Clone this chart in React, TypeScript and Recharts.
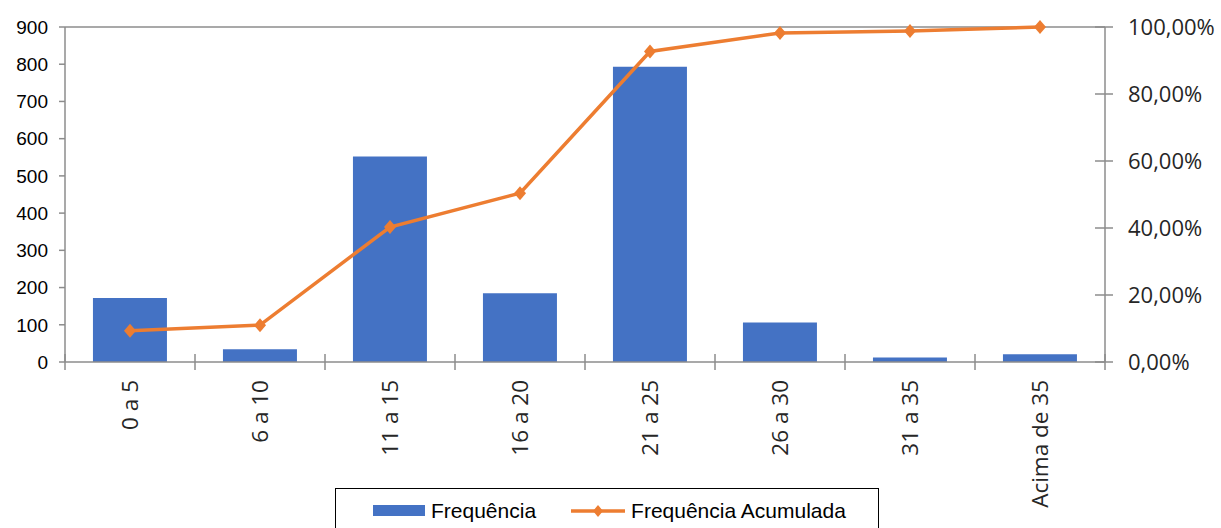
import { ComposedChart, Bar, Line, XAxis, YAxis, Legend, ReferenceLine } from "recharts";

const categories = ["0 a 5", "6 a 10", "11 a 15", "16 a 20", "21 a 25", "26 a 30", "31 a 35", "Acima de 35"];
const frequencia = [172, 34, 552, 185, 793, 106, 12, 21];
const acumulada = [0.093, 0.11, 0.403, 0.504, 0.927, 0.982, 0.988, 1.0];
const leftTicks = [0, 100, 200, 300, 400, 500, 600, 700, 800, 900];
const rightTicks = [0, 0.2, 0.4, 0.6, 0.8, 1.0];

const data = categories.map((c, i) => ({ cat: c, freq: frequencia[i], acum: acumulada[i] }));

const BLUE = "#4472C4";
const ORANGE = "#ED7D31";
const AXIS = "#8c8c8c";
const BAND = 130;

const fmtPct = (v: number) => (v * 100).toFixed(2).replace(".", ",") + "%";

function CatTick(props: any) {
  const { x, y, payload, index } = props;
  return (
    <g>
      {index === 0 && <line x1={x - BAND / 2} x2={x - BAND / 2} y1={y - 8} y2={y + 8} stroke={AXIS} strokeWidth={1.5} />}
      <line x1={x + BAND / 2} x2={x + BAND / 2} y1={y - 8} y2={y + 8} stroke={AXIS} strokeWidth={1.5} />
      <text
        transform={`translate(${x},${y + 18}) rotate(-90)`}
        textAnchor="end"
        dy="0.36em"
        fontFamily="Open Sans"
        fontSize={22.5}
        fill="#262626"
      >
        {payload.value}
      </text>
    </g>
  );
}

function PctTick(props: any) {
  const { x, y, payload } = props;
  return (
    <g>
      <line x1={x - 10} x2={x + 8} y1={y} y2={y} stroke={AXIS} strokeWidth={1.5} />
      <text x={x + 23} y={y} dy="0.36em" fontFamily="Open Sans" fontSize={22} fill="#262626">
        {fmtPct(payload.value)}
      </text>
    </g>
  );
}

function Diamond(props: any) {
  const { cx, cy } = props;
  if (cx == null || cy == null) return null;
  return <path d={`M${cx},${cy - 7} L${cx + 6},${cy} L${cx},${cy + 7} L${cx - 6},${cy} Z`} fill={ORANGE} />;
}

function LegendBox() {
  return (
    <div style={{ width: 1221, height: 40 }}>
      <div
        style={{
          marginLeft: 335,
          width: 544,
          height: 40,
          border: "1.5px solid #000",
          borderBottom: "none",
          boxSizing: "border-box",
          fontFamily: "Liberation Sans",
          fontSize: 21,
          color: "#000",
          display: "flex",
          alignItems: "center",
          paddingLeft: 37,
          paddingTop: 4,
          whiteSpace: "nowrap",
        }}
      >
        <span style={{ display: "inline-block", width: 52, height: 11, background: BLUE, marginRight: 6 }} />
        <span>Frequência</span>
        <svg width={54} height={14} style={{ marginLeft: 35, marginRight: 6 }}>
          <line x1={0} x2={54} y1={7} y2={7} stroke={ORANGE} strokeWidth={3.5} />
          <path d="M27,1 L32,7 L27,13 L22,7 Z" fill={ORANGE} />
        </svg>
        <span>Frequência Acumulada</span>
      </div>
    </div>
  );
}

export default function App() {
  return (
    <div style={{ position: "absolute", left: 0, top: 0, width: 1221, height: 528, overflow: "hidden", background: "#fff" }}>
      <ComposedChart width={1221} height={528} data={data} margin={{ top: 27, right: 0, bottom: 0, left: 0 }} barCategoryGap="21.5%">
        <XAxis
          dataKey="cat"
          height={126}
          interval={0}
          tickLine={false}
          tickSize={0}
          tickMargin={0}
          axisLine={{ stroke: AXIS, strokeWidth: 1.5 }}
          tick={<CatTick />}
        />
        <YAxis
          yAxisId="left"
          width={65}
          domain={[0, 900]}
          ticks={leftTicks}
          tickSize={6}
          tickMargin={11}
          tickLine={{ stroke: AXIS, strokeWidth: 1.5 }}
          axisLine={{ stroke: AXIS, strokeWidth: 1.5 }}
          tick={{ fontFamily: "Liberation Sans", fontSize: 19, fill: "#000" }}
        />
        <YAxis
          yAxisId="right"
          orientation="right"
          width={116}
          domain={[0, 1]}
          ticks={rightTicks}
          tickLine={false}
          tickSize={0}
          tickMargin={0}
          axisLine={{ stroke: AXIS, strokeWidth: 1.5 }}
          tick={<PctTick />}
        />
        <ReferenceLine yAxisId="left" y={900} stroke={AXIS} strokeWidth={1.5} />
        <Legend verticalAlign="bottom" content={<LegendBox />} />
        <Bar yAxisId="left" dataKey="freq" name="Frequência" fill={BLUE} isAnimationActive={false} />
        <Line
          yAxisId="right"
          dataKey="acum"
          name="Frequência Acumulada"
          stroke={ORANGE}
          strokeWidth={3.5}
          dot={<Diamond />}
          activeDot={false}
          isAnimationActive={false}
        />
      </ComposedChart>
    </div>
  );
}
